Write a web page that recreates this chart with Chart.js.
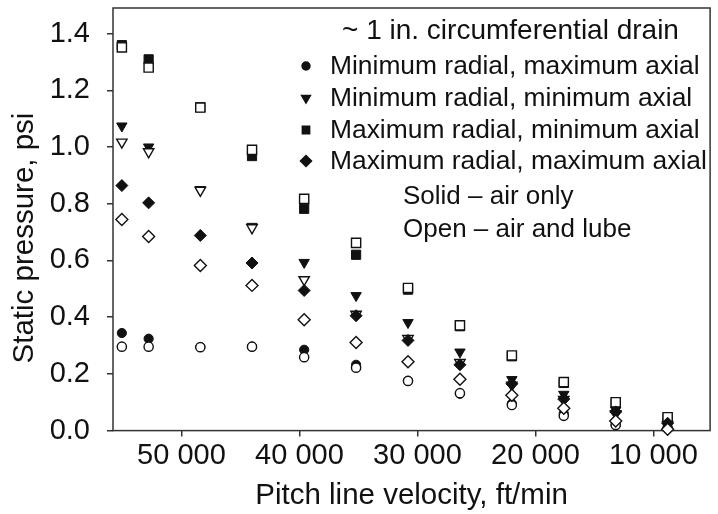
<!DOCTYPE html>
<html>
<head>
<meta charset="utf-8">
<script src="https://cdn.jsdelivr.net/npm/chart.js@4.4.1/dist/chart.umd.min.js"></script>
<style>
  html, body { margin: 0; padding: 0; background: #fff; }
  #wrap { position: relative; width: 718px; height: 514px; }
</style>
</head>
<body>
<div id="wrap"><canvas id="pressureChart"></canvas></div>
<script>
// Pitch line velocity of each test point, ft/min
const velocities = [55050, 52780, 48400, 44020, 39600, 35200, 30800, 26400, 22000, 17600, 13200, 8800];

// Static pressure, psi (Air = solid markers, Lube = open markers)
const minRadMaxAxialAir  = [0.344, 0.324, 0.295, 0.296, 0.285, 0.232, 0.176, 0.130, 0.095, 0.060, 0.020, 0.008];
const minRadMaxAxialLube = [0.296, 0.296, 0.294, 0.296, 0.259, 0.222, 0.175, 0.132, 0.090, 0.052, 0.020, 0.010];
const minRadMinAxialAir  = [1.074, 1.000, 0.850, 0.720, 0.593, 0.476, 0.381, 0.277, 0.180, 0.128, 0.072, 0.030];
const minRadMinAxialLube = [1.017, 0.983, 0.847, 0.715, 0.532, 0.410, 0.325, 0.240, 0.160, 0.110, 0.060, 0.020];
const maxRadMinAxialAir  = [1.359, 1.309, 1.140, 0.968, 0.782, 0.620, 0.497, 0.368, 0.262, 0.168, 0.097, 0.044];
const maxRadMinAxialLube = [1.351, 1.280, 1.139, 0.990, 0.817, 0.662, 0.503, 0.371, 0.265, 0.171, 0.100, 0.047];
const maxRadMaxAxialAir  = [0.864, 0.803, 0.688, 0.591, 0.494, 0.405, 0.318, 0.232, 0.165, 0.111, 0.066, 0.026];
const maxRadMaxAxialLube = [0.744, 0.684, 0.582, 0.512, 0.391, 0.311, 0.243, 0.181, 0.125, 0.079, 0.034, 0.005];

// Axis ticks
const xTicks = [50000, 40000, 30000, 20000, 10000];
const yTicks = [0, 0.2, 0.4, 0.6, 0.8, 1.0, 1.2, 1.4];

// Texts
const xTitle = 'Pitch line velocity, ft/min';
const yTitle = 'Static pressure, psi';
const legendTitle = '~ 1 in. circumferential drain';
const legendLabels = [
    'Minimum radial, maximum axial',
    'Minimum radial, minimum axial',
    'Maximum radial, minimum axial',
    'Maximum radial, maximum axial'
];
const legendNotes = ['Solid \u2013 air only', 'Open \u2013 air and lube'];

const FONT = '"Liberation Sans", Arial, Helvetica, sans-serif';
const INK = '#111';

const shapes = [
    { pointStyle: 'circle',   radius: 4.6, rotation: 0 },
    { pointStyle: 'triangle', radius: 6,   rotation: 180 },
    { pointStyle: 'rect',     radius: 6.5, rotation: 0 },
    { pointStyle: 'rectRot',  radius: 6,   rotation: 0 }
];
const seriesValues = [
    [minRadMaxAxialAir, minRadMaxAxialLube],
    [minRadMinAxialAir, minRadMinAxialLube],
    [maxRadMinAxialAir, maxRadMinAxialLube],
    [maxRadMaxAxialAir, maxRadMaxAxialLube]
];

function toPoints(values) {
    return values.map((v, i) => ({ x: velocities[i], y: v }));
}

// Build 8 scatter datasets: solid (air only) then open (air and lube) per shape
const datasets = [];
seriesValues.forEach((pair, s) => {
    pair.forEach((values, k) => {
        const open = k === 1;
        datasets.push({
            label: legendLabels[s] + (open ? ' (air and lube)' : ' (air only)'),
            data: toPoints(values),
            pointStyle: shapes[s].pointStyle,
            pointRadius: shapes[s].radius,
            pointHoverRadius: shapes[s].radius,
            pointRotation: shapes[s].rotation,
            pointBackgroundColor: open ? '#fff' : INK,
            pointBorderColor: INK,
            pointBorderWidth: open ? 1.4 : 1,
            clip: false,
            order: 7 - datasets.length
        });
    });
});

function drawMarker(ctx, shape, x, y, r) {
    const opts = { pointStyle: shape.pointStyle, radius: r, rotation: shape.rotation, borderWidth: 1 };
    if (Chart.helpers && Chart.helpers.drawPoint) {
        Chart.helpers.drawPoint(ctx, opts, x, y);
    }
}

// Frame round the plot, legend block and rotated y title
const framePlugin = {
    id: 'frameAndLegend',
    beforeDatasetsDraw(chart) {
        const { ctx, chartArea } = chart;
        ctx.save();
        ctx.strokeStyle = '#333';
        ctx.lineWidth = 1.5;
        ctx.strokeRect(chartArea.left, chartArea.top, chartArea.right - chartArea.left, chartArea.bottom - chartArea.top);
        ctx.restore();
    },
    afterDraw(chart) {
        const ctx = chart.ctx;
        ctx.save();
        ctx.fillStyle = INK;
        ctx.strokeStyle = INK;
        ctx.textBaseline = 'middle';
        ctx.textAlign = 'left';

        ctx.font = '28px ' + FONT;
        ctx.fillText(legendTitle, 342, 31);

        const rows = [66, 98, 130, 161];
        const legendRadius = [4, 5.2, 5.2, 5.6];
        ctx.font = '26.4px ' + FONT;
        legendLabels.forEach((label, i) => {
            drawMarker(ctx, shapes[i], 306, rows[i], legendRadius[i]);
            ctx.fillText(label, 330, rows[i] + 1);
        });

        ctx.font = '26px ' + FONT;
        ctx.fillText(legendNotes[0], 403, 197);
        ctx.fillText(legendNotes[1], 403, 230);

        // y axis title
        ctx.translate(25, 238);
        ctx.rotate(-Math.PI / 2);
        ctx.textAlign = 'center';
        ctx.font = '29.5px ' + FONT;
        ctx.fillText(yTitle, 0, 0);
        ctx.restore();
    }
};

const ctx = document.getElementById('pressureChart').getContext('2d');
new Chart(ctx, {
    type: 'scatter',
    data: { datasets: datasets },
    plugins: [framePlugin],
    options: {
        responsive: true,
        maintainAspectRatio: false,
        animation: false,
        events: [],
        layout: { padding: { top: 8, right: 1, bottom: 0, left: 0 } },
        plugins: {
            legend: { display: false },
            tooltip: { enabled: false }
        },
        scales: {
            x: {
                type: 'linear',
                reverse: true,
                min: 5200,
                max: 55800,
                afterBuildTicks: s => { s.ticks = xTicks.map(v => ({ value: v })); },
                afterFit: s => { s.height = 83.4; s.paddingLeft = 0; s.paddingRight = 0; },
                border: { display: false },
                grid: { drawOnChartArea: false, drawTicks: true, tickLength: 6, color: '#333', lineWidth: 1.5 },
                ticks: {
                    padding: 2,
                    color: INK,
                    maxRotation: 0,
                    font: { family: FONT, size: 29 },
                    callback: v => String(v).replace(/\B(?=(\d{3})+(?!\d))/g, ' ')
                },
                title: {
                    display: true,
                    text: xTitle,
                    color: INK,
                    font: { family: FONT, size: 29.5 },
                    padding: { top: 0, bottom: 0 }
                }
            },
            y: {
                min: 0,
                max: 1.49,
                afterBuildTicks: s => { s.ticks = yTicks.map(v => ({ value: v })); },
                afterFit: s => { s.width = 113; s.paddingTop = 0; s.paddingBottom = 0; },
                border: { display: false },
                grid: { drawOnChartArea: false, drawTicks: true, tickLength: 6, color: '#333', lineWidth: 1.5 },
                ticks: {
                    padding: 17,
                    color: INK,
                    font: { family: FONT, size: 29 },
                    callback: v => Number(v).toFixed(1)
                }
            }
        }
    }
});
</script>
</body>
</html>
